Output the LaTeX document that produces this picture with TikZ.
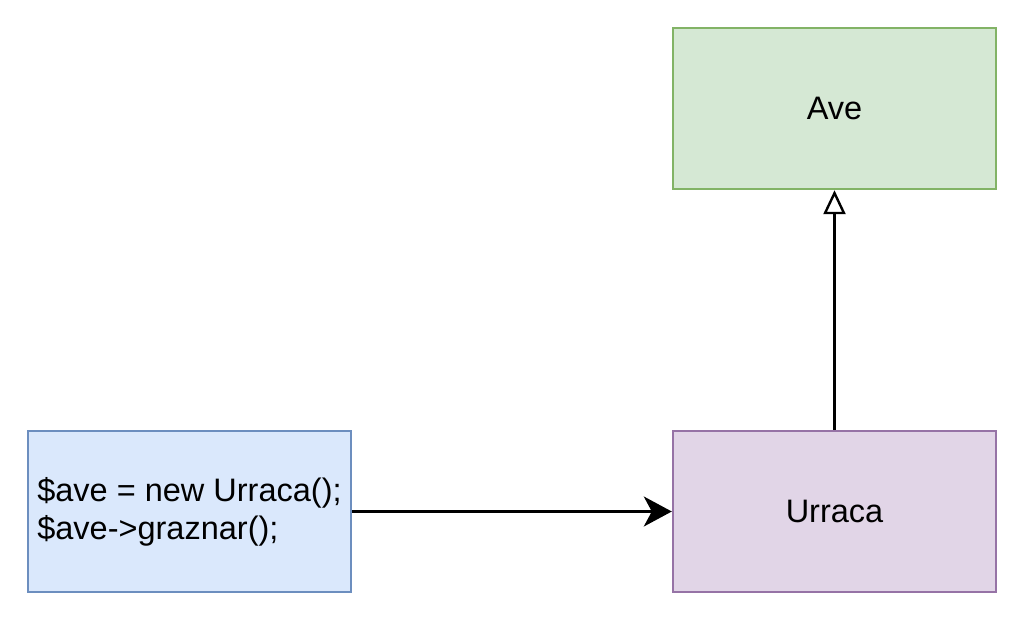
\documentclass[tikz,border=0pt]{standalone}
\usepackage{fontspec}
\setmainfont{Liberation Sans}
\usetikzlibrary{arrows.meta}
\definecolor{greenfill}{HTML}{D5E8D4}
\definecolor{greenline}{HTML}{82B366}
\definecolor{purplefill}{HTML}{E1D5E7}
\definecolor{purpleline}{HTML}{9673A6}
\definecolor{bluefill}{HTML}{DAE8FC}
\definecolor{blueline}{HTML}{6C8EBF}
\begin{document}
\begin{tikzpicture}[x=1pt,y=-1pt,
  box/.style={draw, rectangle, line width=2.4pt, minimum width=323pt, minimum height=161pt,
    inner sep=0pt, font=\fontsize{32.5pt}{38pt}\selectfont, align=left},
  conn/.style={line width=2.4pt}]
\useasboundingbox (0,0) rectangle (1024,621);
\node[box, fill=greenfill, draw=greenline] (ave) at (834.5,108.5) {Ave};
\node[box, fill=purplefill, draw=purpleline] (urraca) at (834.5,511.5) {Urraca};
\node[box, fill=bluefill, draw=blueline] (code) at (189.5,511.5) {\$ave = new Urraca();\\\$ave->graznar();};
\draw[conn, -{Stealth[length=28pt, width=30pt, inset=8pt]}] (code.east) -- (urraca.west);
\draw[conn, -{Triangle[open, fill=white, length=24pt, width=22pt]}] (urraca.north) -- (ave.south);
\end{tikzpicture}
\end{document}
